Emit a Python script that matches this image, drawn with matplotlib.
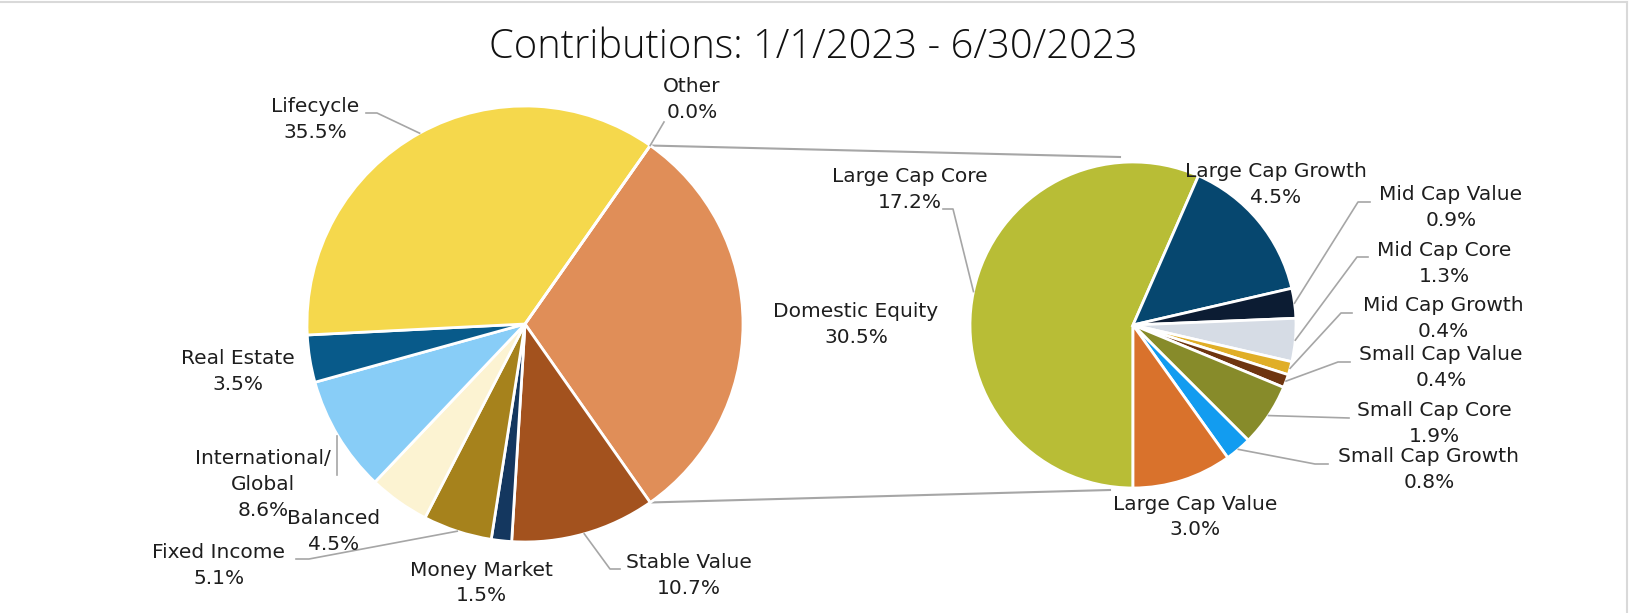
import matplotlib
matplotlib.use("Agg")
import matplotlib.pyplot as plt
from matplotlib.lines import Line2D
import numpy as np

# ---------------- data ----------------
title = "Contributions: 1/1/2023 - 6/30/2023"

main_labels = ["Domestic Equity", "Stable Value", "Money Market", "Fixed Income",
               "Balanced", "International/\nGlobal", "Real Estate", "Lifecycle", "Other"]
main_values = [30.5, 10.7, 1.5, 5.1, 4.5, 8.6, 3.5, 35.5, 0.0]
main_colors = ["#E08E58", "#A3521E", "#14375F", "#A6821C", "#FCF3D2",
               "#88CDF7", "#085A8A", "#F5D84C", "#BFBFBF"]

sub_labels = ["Large Cap Core", "Large Cap Growth", "Mid Cap Value", "Mid Cap Core",
              "Mid Cap Growth", "Small Cap Value", "Small Cap Core", "Small Cap Growth",
              "Large Cap Value"]
sub_values = [17.2, 4.5, 0.9, 1.3, 0.4, 0.4, 1.9, 0.8, 3.0]
sub_colors = ["#B8BD36", "#06476F", "#0C1C33", "#D6DCE5", "#E0AE27",
              "#6E3510", "#878B2A", "#129CF0", "#D9722C"]

# ---------------- layout (pixel coordinates, y from top) ----------------
W, H = 1631, 613
MAIN_C, MAIN_R = (525, 324), 218
SUB_C, SUB_R = (1133, 325), 163
LINE_DY = 25.5

main_layout = {
    "Lifecycle": dict(x=315, y=107, leader=[(366, 113), (377, 113)]),
    "Other": dict(x=692, y=87, leader=[(664, 122)], edge="start"),
    "Stable Value": dict(x=689, y=563, leader=[(620, 569), (610, 569)]),
    "Money Market": dict(x=481, y=570, leader=None),
    "Fixed Income": dict(x=219, y=553, leader=[(296, 559), (309, 559)]),
    "Balanced": dict(x=334, y=519, leader=None),
    "International/\nGlobal": dict(x=263, y=459, leader=[(337, 475)], vertical=True),
    "Real Estate": dict(x=238, y=359, leader=None),
    "Domestic Equity": dict(x=856, y=312, leader=None),
}
sub_layout = {
    "Large Cap Core": dict(x=910, y=177, leader=[(943, 209), (953, 209)]),
    "Large Cap Growth": dict(x=1276, y=172, leader=None),
    "Mid Cap Value": dict(x=1451, y=195, leader=[(1370, 202), (1358, 202)]),
    "Mid Cap Core": dict(x=1444, y=251, leader=[(1368, 257), (1357, 257)]),
    "Mid Cap Growth": dict(x=1443, y=306, leader=[(1352, 313), (1341, 313)]),
    "Small Cap Value": dict(x=1441, y=355, leader=[(1350, 362), (1338, 362)]),
    "Small Cap Core": dict(x=1434, y=411, leader=[(1349, 418)]),
    "Small Cap Growth": dict(x=1429, y=457, leader=[(1328, 464), (1315, 464)]),
    "Large Cap Value": dict(x=1195, y=504, leader=None),
}

LABEL_FONT = ["DejaVu Sans"]
TITLE_FONT = ["Open Sans", "DejaVu Sans"]
TXT = "#1E1E1E"
LEADER = "#A6A6A6"
LABEL_FS = 14.5


def P(x, y):
    return (x, H - y)


fig = plt.figure(figsize=(W / 100, H / 100), dpi=100)
fig.patch.set_facecolor("white")
ax = fig.add_axes([0, 0, 1, 1])

wp = dict(edgecolor="white", linewidth=2.0)
main_start = 180.0 * main_values[0] / sum(main_values)
w_main, _ = ax.pie(main_values, colors=main_colors, startangle=main_start,
                   counterclock=False, center=P(*MAIN_C), radius=MAIN_R,
                   wedgeprops=wp)
w_sub, _ = ax.pie(sub_values, colors=sub_colors, startangle=270,
                  counterclock=False, center=P(*SUB_C), radius=SUB_R,
                  wedgeprops=wp)

ax.set_xlim(0, W)
ax.set_ylim(0, H)
ax.set_aspect("equal")
ax.axis("off")


def edge_point(wedge, ang):
    cx, cy = wedge.center
    r = wedge.r
    a = np.deg2rad(ang)
    return (cx + r * np.cos(a), cy + r * np.sin(a))


def draw_labels(wedges, labels, values, layout):
    for w, lab, v in zip(wedges, labels, values):
        lay = layout[lab]
        lines = lab.split("\n") + [f"{v:.1f}%"]
        for i, s in enumerate(lines):
            ax.text(*P(lay["x"], lay["y"] + i * LINE_DY), s, ha="center", va="center",
                    fontsize=LABEL_FS, color=TXT, family=LABEL_FONT, zorder=5)
        if lay.get("leader"):
            if lay.get("edge") == "start":
                anchor = edge_point(w, max(w.theta1, w.theta2))
            else:
                anchor = edge_point(w, 0.5 * (w.theta1 + w.theta2))
            pts = [P(*p) for p in lay["leader"]]
            if lay.get("vertical"):
                pts = [pts[0], (pts[0][0], anchor[1])]
            else:
                pts = pts + [anchor]
            xs, ys = zip(*pts)
            ax.add_line(Line2D(xs, ys, color=LEADER, lw=1.2, zorder=4))


draw_labels(w_main, main_labels, main_values, main_layout)
draw_labels(w_sub, sub_labels, sub_values, sub_layout)

# connector lines between the split slice and the secondary pie
de = w_main[0]
top_start = edge_point(de, max(de.theta1, de.theta2))
bot_start = edge_point(de, min(de.theta1, de.theta2))
scx, scy = P(*SUB_C)
top_end = (scx - 13, scy + SUB_R + 5)
bot_end = (scx - 23, scy - SUB_R - 2)
for a, b in [(top_start, top_end), (bot_start, bot_end)]:
    ax.add_line(Line2D([a[0], b[0]], [a[1], b[1]], color=LEADER, lw=1.5, zorder=0.5))

# title
ax.text(*P(813, 48), title, ha="center", va="center", fontsize=28.7,
        fontweight="light", color="#111111", family=TITLE_FONT)

# chart border (top and right visible in crop)
ax.add_line(Line2D([0, 1627.5], [H - 1.5, H - 1.5], color="#D9D9D9", lw=1.5))
ax.add_line(Line2D([1627.5, 1627.5], [0, H - 1.5], color="#D9D9D9", lw=1.5))

fig.savefig("out.png", dpi=100, facecolor="white")
